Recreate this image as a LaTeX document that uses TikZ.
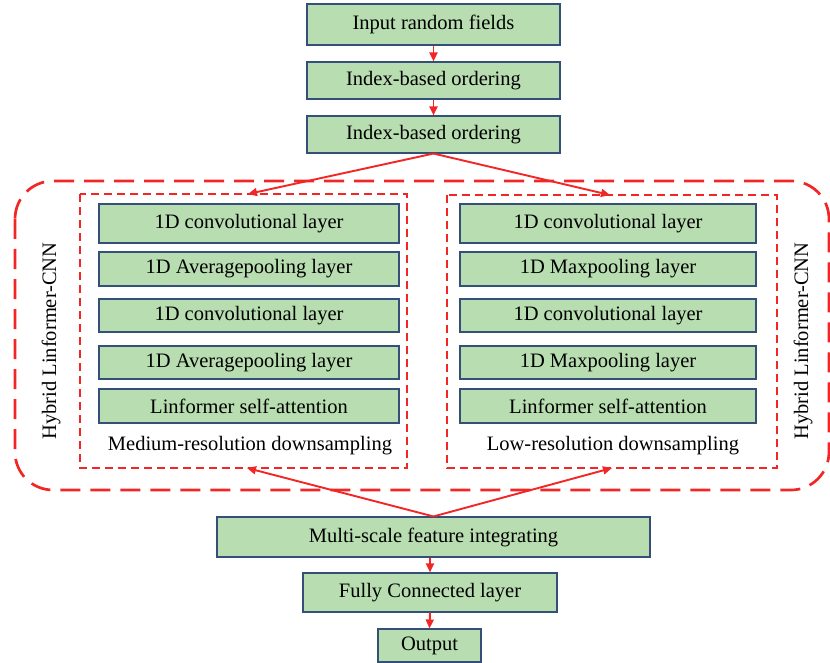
\documentclass[tikz,border=0pt]{standalone}
\usepackage{fontspec}
\setmainfont{Liberation Serif}
\usetikzlibrary{arrows.meta}
\definecolor{boxgreen}{RGB}{183,221,176}
\definecolor{boxedge}{RGB}{52,80,120}
\definecolor{lred}{RGB}{243,38,38}
\tikzset{
  layerbox/.style={draw=boxedge, line width=1.1pt, fill=boxgreen, inner sep=0pt,
    font=\fontsize{20.5}{24}\selectfont},
  redarrow/.style={draw=lred, line width=1.9pt, -{Triangle[length=9pt,width=8pt]}},
  outerdash/.style={draw=lred, line width=2.7pt, dash pattern=on 20pt off 10pt, rounded corners=38pt},
  innerdash/.style={draw=lred, line width=2.2pt, dash pattern=on 8pt off 5pt},
  plaintext/.style={font=\fontsize{20.5}{24}\selectfont, inner sep=0pt}
}
\begin{document}
\begin{tikzpicture}[x=1pt,y=-1pt]
\useasboundingbox (0,0) rectangle (830,663);
% top chain
\node[layerbox, minimum width=253pt, minimum height=41pt] (in) at (433.5,24.5) {Input random fields};
\node[layerbox, minimum width=253pt, minimum height=37pt] (ord1) at (433.5,80.5) {Index-based ordering};
\node[layerbox, minimum width=253pt, minimum height=37pt] (ord2) at (433.5,134.5) {Index-based ordering};
\draw[redarrow] (in.south) -- (ord1.north);
\draw[redarrow] (ord1.south) -- (ord2.north);

% outer dashed frame
\draw[outerdash] (15,181) rectangle (829,490);
\node[plaintext, rotate=90] (hl) at (51,341) {Hybrid Linformer-CNN};
\node[plaintext, rotate=90] (hr) at (803,341) {Hybrid Linformer-CNN};

% inner frames
\draw[innerdash] (80,194) rectangle (407,468);
\draw[innerdash] (447,195) rectangle (777,468);
\coordinate (ltop) at (248,194);
\coordinate (rtop) at (610,195);
\coordinate (lbot) at (247,468);
\coordinate (rbot) at (612,468);

% left column
\node[layerbox, minimum width=300pt, minimum height=39pt] (l1) at (249,223.5) {1D convolutional layer};
\node[layerbox, minimum width=300pt, minimum height=34pt] (l2) at (249,269) {1D Averagepooling layer};
\node[layerbox, minimum width=300pt, minimum height=33pt] (l3) at (249,315.5) {1D convolutional layer};
\node[layerbox, minimum width=300pt, minimum height=33pt] (l4) at (249,362.5) {1D Averagepooling layer};
\node[layerbox, minimum width=300pt, minimum height=34pt] (l5) at (249,406) {Linformer self-attention};
\node[plaintext] (lcap) at (250,446) {Medium-resolution downsampling};

% right column
\node[layerbox, minimum width=296pt, minimum height=39pt] (r1) at (608,223.5) {1D convolutional layer};
\node[layerbox, minimum width=296pt, minimum height=34pt] (r2) at (608,269) {1D Maxpooling layer};
\node[layerbox, minimum width=296pt, minimum height=33pt] (r3) at (608,315.5) {1D convolutional layer};
\node[layerbox, minimum width=296pt, minimum height=33pt] (r4) at (608,362.5) {1D Maxpooling layer};
\node[layerbox, minimum width=296pt, minimum height=34pt] (r5) at (608,406) {Linformer self-attention};
\node[plaintext] (rcap) at (613,446) {Low-resolution downsampling};

\draw[redarrow] (ord2.south) -- (ltop);
\draw[redarrow] (ord2.south) -- (rtop);

% bottom chain
\node[layerbox, minimum width=433pt, minimum height=40pt] (ms) at (433.5,537) {Multi-scale feature integrating};
\node[layerbox, minimum width=254pt, minimum height=39pt] (fc) at (430,592.5) {Fully Connected layer};
\node[layerbox, minimum width=103pt, minimum height=33pt] (out) at (429.5,645.5) {Output};
\draw[redarrow] (ms.north) -- (lbot);
\draw[redarrow] (ms.north) -- (rbot);
\draw[redarrow] (ms.south -| fc.north) -- (fc.north);
\draw[redarrow] (fc.south) -- (out.north);
\end{tikzpicture}
\end{document}
